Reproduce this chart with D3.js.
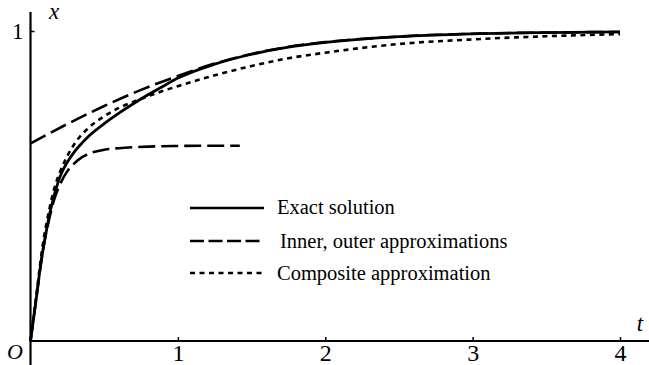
<!DOCTYPE html>
<html><head><meta charset="utf-8">
<script src="https://cdn.jsdelivr.net/npm/d3@7"></script>
<style>
html,body{margin:0;padding:0;background:#fff;}
svg{display:block;}
svg text{font-family:"Liberation Serif","Times New Roman",Times,serif;fill:#000;}
</style></head>
<body>
<script>
// ---- data ----
const exactT = [0,0.02,0.04,0.06,0.08,0.1,0.13,0.16,0.2,0.25,0.3,0.35,0.4,0.5,0.6,0.7,0.8,0.9,1.0,1.25,1.5,1.75,2,2.5,3,3.5,4];
const exactX = [0,0.07,0.14,0.215,0.28,0.335,0.41,0.468,0.53,0.577,0.612,0.639,0.663,0.701,0.735,0.766,0.795,0.822,0.848,0.893,0.925,0.948,0.963,0.982,0.991,0.995,0.997];

const outerT = [0,0.25,0.5,0.75,1.0,1.25,1.5,1.75,2,2.5,3,3.5,4];
const outerX = [0.637,0.70,0.758,0.810,0.855,0.895,0.926,0.949,0.964,0.982,0.991,0.995,0.997];

const innerT = [0,0.04,0.08,0.13,0.16,0.2,0.25,0.3,0.35,0.4,0.5,0.6,0.7,0.8,1.0,1.2,1.42];
const innerX = [0,0.14,0.28,0.40,0.455,0.505,0.548,0.574,0.593,0.605,0.617,0.622,0.625,0.627,0.629,0.63,0.63];

const compT = [0,0.04,0.08,0.13,0.16,0.2,0.25,0.3,0.4,0.5,0.6,0.7,0.8,0.9,1.0,1.25,1.5,1.75,2,2.5,3,3.5,4];
const compX = [0,0.15,0.30,0.43,0.49,0.545,0.597,0.637,0.69,0.725,0.752,0.772,0.79,0.807,0.822,0.857,0.887,0.912,0.93,0.958,0.973,0.983,0.99];

const xTicks = [1,2,3,4];
const yTicks = [1];
const legendLabels = ["Exact solution","Inner, outer approximations","Composite approximation"];

// ---- drawing ----
const W = 649, H = 365;
const svg = d3.select("body").append("svg").attr("width",W).attr("height",H);

const x = d3.scaleLinear().domain([0,4]).range([30.5,620]);
const y = d3.scaleLinear().domain([0,1]).range([341,31]);

// axes lines
svg.append("line").attr("x1",x(0)).attr("x2",W).attr("y1",y(0)).attr("y2",y(0))
  .attr("stroke","#000").attr("stroke-width",2.2);
svg.append("line").attr("x1",x(0)).attr("x2",x(0)).attr("y1",12).attr("y2",H)
  .attr("stroke","#000").attr("stroke-width",2.2);

const xAxis = d3.axisBottom(x).tickValues(xTicks).tickFormat(d3.format("d"))
  .tickSizeInner(-4).tickSizeOuter(0).tickPadding(3);
const gx = svg.append("g").attr("transform",`translate(0,${y(0)})`).call(xAxis);
gx.attr("font-family",null);
gx.select(".domain").remove();
gx.selectAll(".tick line").attr("stroke","#000").attr("stroke-width",1.5);
gx.selectAll(".tick text").attr("font-size",24);

const yAxis = d3.axisLeft(y).tickValues(yTicks).tickFormat(d3.format("d"))
  .tickSizeInner(-4).tickSizeOuter(0).tickPadding(7);
const gy = svg.append("g").attr("transform",`translate(${x(0)},0)`).call(yAxis);
gy.attr("font-family",null);
gy.select(".domain").remove();
gy.selectAll(".tick line").attr("stroke","#000").attr("stroke-width",1.5);
gy.selectAll(".tick text").attr("font-size",23);

// axis labels
svg.append("text").attr("x",54).attr("y",19).attr("text-anchor","middle")
  .attr("font-style","italic").attr("font-size",23).text("x");
svg.append("text").attr("x",640).attr("y",331).attr("text-anchor","middle")
  .attr("font-style","italic").attr("font-size",23).text("t");
svg.append("text").attr("x",15).attr("y",359).attr("text-anchor","middle")
  .attr("font-style","italic").attr("font-size",22).text("O");

const line = d3.line().x(d=>x(d[0])).y(d=>y(d[1])).curve(d3.curveMonotoneX);
const zip = (a,b)=>a.map((v,i)=>[v,b[i]]);

const series = [
  {t:compT, v:compX, dash:"5,4.5", w:2.6},
  {t:outerT, v:outerX, dash:"17,6", w:2.6},
  {t:innerT, v:innerX, dash:"17,6", w:2.6},
  {t:exactT, v:exactX, dash:null, w:2.8}
];
series.forEach(s=>{
  svg.append("path").datum(zip(s.t,s.v)).attr("d",line)
    .attr("fill","none").attr("stroke","#000").attr("stroke-width",s.w)
    .attr("stroke-dasharray",s.dash);
});

// legend
const legendStyles = [
  {dash:null, ly:208, tx:277, ty:214},
  {dash:"14,4.5", ly:241, tx:280, ty:248},
  {dash:"5,4.5", ly:273, tx:277, ty:280}
];
const lg = svg.append("g");
legendLabels.forEach((lab,i)=>{
  const st = legendStyles[i];
  lg.append("line").attr("x1",190).attr("x2",264).attr("y1",st.ly).attr("y2",st.ly)
    .attr("stroke","#000").attr("stroke-width",2.6).attr("stroke-dasharray",st.dash);
  lg.append("text").attr("x",st.tx).attr("y",st.ty).attr("font-size",20.5).text(lab);
});
</script>
</body></html>
